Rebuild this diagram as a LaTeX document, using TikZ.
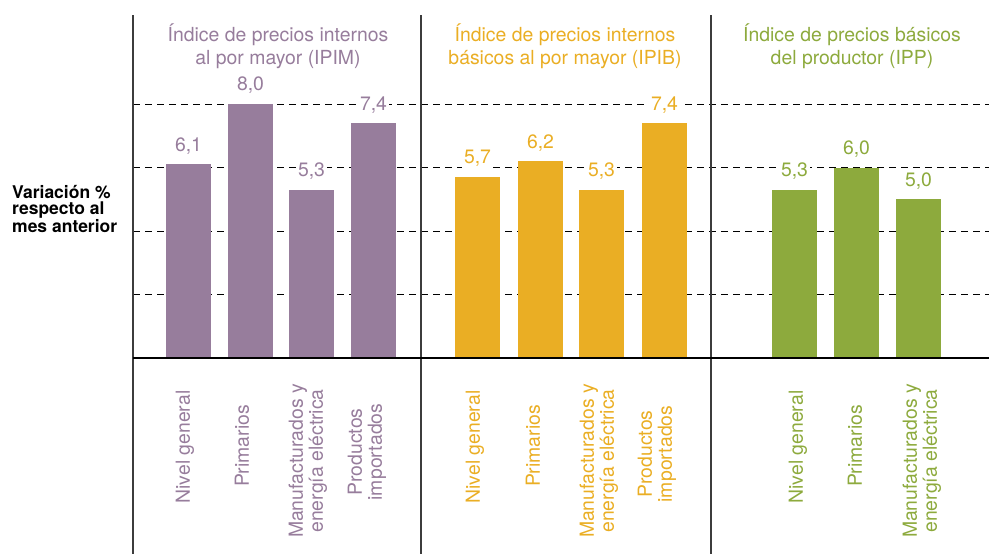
\documentclass[tikz,border=0pt]{standalone}
\usepackage{fontspec}
\setmainfont{TeX Gyre Heros}
\usepackage{tikz}
\usetikzlibrary{positioning}
\definecolor{ipim}{RGB}{151,125,156}
\definecolor{ipib}{RGB}{234,174,36}
\definecolor{ipp}{RGB}{141,170,61}
\definecolor{divgray}{RGB}{60,60,60}
\tikzset{
  grid line/.style={black, line width=0.9pt, dash pattern=on 7pt off 5pt},
  divider/.style={divgray, line width=2pt},
  base line/.style={black, line width=1.6pt},
  title/.style={align=center, inner sep=0pt, font=\fontsize{19.4}{22.5}\selectfont},
  val/.style={anchor=south, fill=white, inner sep=2pt, font=\fontsize{19.4}{22}\selectfont},
  cat/.style={rotate=90, align=center, inner sep=0pt, font=\fontsize{19.4}{20}\selectfont},
  axislabel/.style={anchor=west, align=left, inner sep=0pt, font=\fontsize{17.5}{16.5}\selectfont\bfseries}
}
\begin{document}
\begin{tikzpicture}[x=1pt,y=1pt]
\useasboundingbox (0,0) rectangle (989,-554);
\coordinate (gA) at (133,-104);
\coordinate (gB) at (133,-167.5);
\coordinate (gC) at (133,-231);
\coordinate (gD) at (133,-294.5);
\draw [grid line] (gA) -- (989,-104);
\draw [grid line] (gB) -- (989,-167.5);
\draw [grid line] (gC) -- (989,-231);
\draw [grid line] (gD) -- (989,-294.5);
\fill [ipim] (166,-358) rectangle (211,-164.3);
\fill [ipim] (228,-358) rectangle (273,-104);
\fill [ipim] (289,-358) rectangle (334,-189.7);
\fill [ipim] (351,-358) rectangle (396,-123.1);
\fill [ipib] (455,-358) rectangle (500,-177.0);
\fill [ipib] (518,-358) rectangle (563,-161.2);
\fill [ipib] (579,-358) rectangle (624,-189.7);
\fill [ipib] (642,-358) rectangle (687,-123.1);
\fill [ipp] (772,-358) rectangle (817,-189.7);
\fill [ipp] (834,-358) rectangle (879,-167.5);
\fill [ipp] (896,-358) rectangle (941,-199.3);
\coordinate (axisL) at (133,-15);
\coordinate (axisM) at (420.5,-15);
\coordinate (axisR) at (710.5,-15);
\draw [divider] (axisL) -- (133,-554);
\draw [divider] (axisM) -- (420.5,-554);
\draw [divider] (axisR) -- (710.5,-554);
\draw [base line] (133,-358) -- (989,-358);
\node [axislabel] (ylab) at (12,-209) {Variación \%\\respecto al\\mes anterior};
\node [title, text=ipim] (tIPIM) at (278,-46) {Índice de precios internos\\al por mayor (IPIM)};
\node [title, text=ipib] (tIPIB) at (565,-46) {Índice de precios internos\\básicos al por mayor (IPIB)};
\node [title, text=ipp] (tIPP) at (852,-46) {Índice de precios básicos\\del productor (IPP)};
\node [val, text=ipim] (vIPIMa) at (188.5,-156.3) {6,1};
\node [val, text=ipim] (vIPIMb) at (250.5,-96) {8,0};
\node [val, text=ipim] (vIPIMc) at (311.5,-181.7) {5,3};
\node [val, text=ipim] (vIPIMd) at (373.5,-115.1) {7,4};
\node [val, text=ipib] (vIPIBa) at (477.5,-169.0) {5,7};
\node [val, text=ipib] (vIPIBb) at (540.5,-153.2) {6,2};
\node [val, text=ipib] (vIPIBc) at (601.5,-181.7) {5,3};
\node [val, text=ipib] (vIPIBd) at (664.5,-115.1) {7,4};
\node [val, text=ipp] (vIPPa) at (794.5,-181.7) {5,3};
\node [val, text=ipp] (vIPPb) at (856.5,-159.5) {6,0};
\node [val, text=ipp] (vIPPc) at (918.5,-191.3) {5,0};
\node [cat, text=ipim] (cIPIMa) at (185,-447) {Nivel general};
\node [cat, text=ipim] (cIPIMb) at (242,-446) {Primarios};
\node [cat, text=ipim] (cIPIMc) at (308,-461) {Manufacturados y\\energía eléctrica};
\node [cat, text=ipim] (cIPIMd) at (367,-452) {Productos\\importados};
\node [cat, text=ipib] (cIPIBa) at (475,-447) {Nivel general};
\node [cat, text=ipib] (cIPIBb) at (533,-446) {Primarios};
\node [cat, text=ipib] (cIPIBc) at (599,-461) {Manufacturados y\\energía eléctrica};
\node [cat, text=ipib] (cIPIBd) at (657,-454) {Productos\\importados};
\node [cat, text=ipp] (cIPPa) at (798,-447) {Nivel general};
\node [cat, text=ipp] (cIPPb) at (855,-446) {Primarios};
\node [cat, text=ipp] (cIPPc) at (922,-461) {Manufacturados y\\energía eléctrica};
\end{tikzpicture}
\end{document}
